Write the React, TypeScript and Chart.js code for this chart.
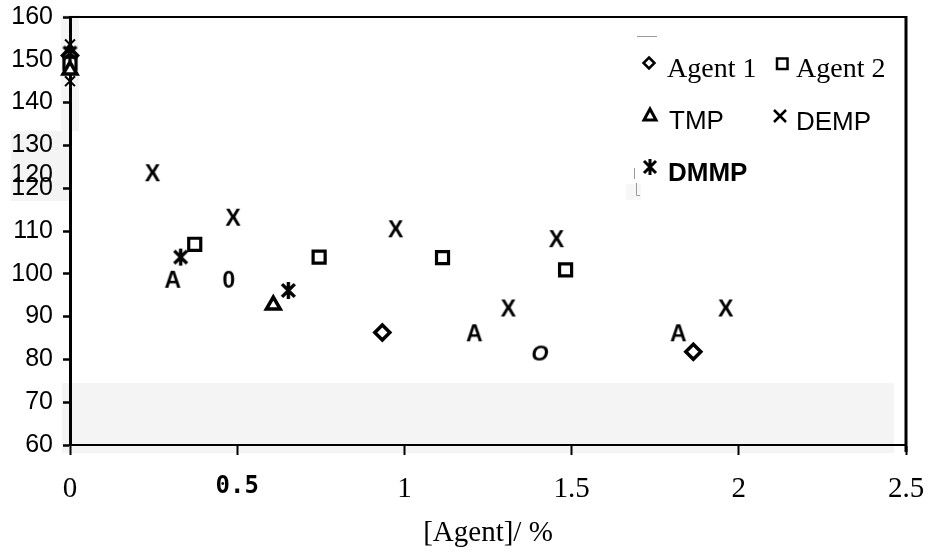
import React, { useEffect, useRef } from 'react';
import { Chart, registerables } from 'chart.js';

Chart.register(...registerables);

// ---------- data ----------
const xTickValues = [0, 0.5, 1, 1.5, 2, 2.5];
const xTickLabels = ['0', '0.5', '1', '1.5', '2', '2.5'];
const yTickValues = [60, 70, 80, 90, 100, 110, 120, 130, 140, 150, 160];
const yTickLabels = ['60', '70', '80', '90', '100', '110', '120', '130', '140', '150', '160'];
const xTitle = '[Agent]/ %';
const legendLabels = ['Agent 1', 'Agent 2', 'TMP', 'DEMP', 'DMMP'];

// Agent 1 (diamonds; some printed as "0" / "O")
const agent1X = [0, 0.475, 0.934, 1.405, 1.864];
const agent1Y = [151, 98.6, 86.3, 81.6, 81.8];
const agent1Marks = ['diamond', 'zero', 'diamond', 'oh', 'diamond'];

// Agent 2 (squares)
const agent2X = [0, 0.373, 0.745, 1.114, 1.482];
const agent2Y = [149.2, 106.9, 103.9, 103.8, 100.9];

// TMP (triangles; some printed as "A")
const tmpX = [0, 0.307, 0.608, 1.209, 1.819];
const tmpY = [147.6, 98.6, 92.7, 86.1, 86.1];
const tmpMarks = ['triangle', 'A', 'triangle', 'A', 'A'];

// DEMP (crosses; most printed as "X")
const dempX = [0, 0, 0.247, 0.488, 0.974, 1.311, 1.455, 1.961];
const dempY = [153.6, 145, 123.5, 113.1, 110.4, 91.9, 108.1, 91.9];
const dempMarks = ['cross', 'cross', 'X', 'X', 'X', 'X', 'X', 'X'];

// DMMP (asterisks)
const dmmpX = [0, 0.331, 0.653];
const dmmpY = [151.6, 103.9, 96.1];

// ---------- helpers ----------
function glyphCanvas(text: string, font: string, px: number, capRatio = 0.72) {
  const size = 34;
  const c = document.createElement('canvas');
  c.width = size;
  c.height = size;
  const g = c.getContext('2d')!;
  g.font = font;
  g.fillStyle = '#000';
  g.textAlign = 'center';
  g.textBaseline = 'alphabetic';
  g.fillText(text, size / 2, size / 2 + (px * capRatio) / 2);
  return c;
}

function asteriskCanvas(r: number, lw: number) {
  const size = Math.ceil(2 * r + lw + 4);
  const c = document.createElement('canvas');
  c.width = size;
  c.height = size;
  const g = c.getContext('2d')!;
  const m = size / 2;
  g.strokeStyle = '#000';
  g.lineWidth = lw;
  g.beginPath();
  g.moveTo(m, m - r);
  g.lineTo(m, m + r);
  const d = r * 0.75;
  g.moveTo(m - d, m - d);
  g.lineTo(m + d, m + d);
  g.moveTo(m + d, m - d);
  g.lineTo(m - d, m + d);
  g.stroke();
  return c;
}

function pts(xs: number[], ys: number[]) {
  return xs.map((x, i) => ({ x, y: ys[i] }));
}

const decorPlugin = {
  id: 'decor',
  beforeDraw(chart: any) {
    const { ctx, chartArea: a, scales } = chart;
    const y = scales.y;
    const x = scales.x;
    ctx.save();
    ctx.fillStyle = '#f4f4f4';
    // scan patches
    const p133 = y.getPixelForValue(133.4);
    const p117 = y.getPixelForValue(117);
    ctx.fillRect(a.left - 9, a.top - 2, 18, p133 - a.top + 2);
    ctx.fillRect(11, p133, a.left - 11, p117 - p133);
    const p745 = y.getPixelForValue(74.5);
    ctx.fillRect(a.left - 8, p745, x.getPixelForValue(2.464) - a.left + 8, a.bottom + 8 - p745);
    ctx.fillStyle = '#f7f7f7';
    ctx.fillRect(626, 184, 15, 16);
    ctx.restore();
  },
  afterDraw(chart: any) {
    const { ctx, chartArea: a } = chart;
    ctx.save();
    ctx.strokeStyle = '#000';
    // frame: top, right
    ctx.lineWidth = 2;
    ctx.beginPath();
    ctx.moveTo(a.left, a.top);
    ctx.lineTo(a.right, a.top);
    ctx.stroke();
    ctx.lineWidth = 3;
    ctx.beginPath();
    ctx.moveTo(a.right, a.top - 1);
    ctx.lineTo(a.right, a.bottom + 7);
    ctx.stroke();

    // duplicated "120" printed on the scan
    ctx.fillStyle = '#000';
    ctx.font = '25px "Liberation Sans"';
    ctx.textAlign = 'right';
    ctx.textBaseline = 'middle';
    ctx.fillText('120', 53, 175);

    // small scan marks
    ctx.strokeStyle = '#9a9a9a';
    ctx.lineWidth = 1;
    ctx.beginPath();
    ctx.moveTo(637, 36.5);
    ctx.lineTo(657, 36.5);
    ctx.moveTo(634.5, 168);
    ctx.lineTo(634.5, 179);
    ctx.moveTo(636.5, 183);
    ctx.lineTo(636.5, 195.5);
    ctx.lineTo(640, 195.5);
    ctx.stroke();

    // legend
    ctx.strokeStyle = '#000';
    ctx.fillStyle = '#000';
    ctx.lineWidth = 2.5;
    // diamond
    ctx.beginPath();
    ctx.moveTo(649, 57.5);
    ctx.lineTo(654.5, 63);
    ctx.lineTo(649, 68.5);
    ctx.lineTo(643.5, 63);
    ctx.closePath();
    ctx.stroke();
    // square
    ctx.strokeRect(777, 58.5, 10.5, 10.5);
    // triangle
    ctx.lineWidth = 3;
    ctx.beginPath();
    ctx.moveTo(650, 109);
    ctx.lineTo(656, 120);
    ctx.lineTo(644, 120);
    ctx.closePath();
    ctx.stroke();
    // cross
    ctx.lineWidth = 2.5;
    ctx.beginPath();
    ctx.moveTo(774, 110);
    ctx.lineTo(786, 122);
    ctx.moveTo(786, 110);
    ctx.lineTo(774, 122);
    ctx.stroke();
    // asterisk
    ctx.lineWidth = 3;
    ctx.beginPath();
    ctx.moveTo(650, 159);
    ctx.lineTo(650, 175);
    ctx.moveTo(644, 161);
    ctx.lineTo(656, 173);
    ctx.moveTo(656, 161);
    ctx.lineTo(644, 173);
    ctx.stroke();

    ctx.textAlign = 'left';
    ctx.textBaseline = 'alphabetic';
    ctx.font = '28px "Liberation Serif"';
    ctx.fillText(legendLabels[0], 667, 77);
    ctx.fillText(legendLabels[1], 796, 77);
    ctx.font = '26px "Liberation Sans"';
    ctx.fillText(legendLabels[2], 669, 129);
    ctx.fillText(legendLabels[3], 796, 130);
    ctx.font = 'bold 26px "Liberation Sans"';
    ctx.fillText(legendLabels[4], 668, 181);
    ctx.restore();
  },
};

export default function App() {
  const ref = useRef<HTMLCanvasElement>(null);

  useEffect(() => {
    if (!ref.current) return;
    const gX = glyphCanvas('X', 'bold 23px "Liberation Sans"', 23);
    const gA = glyphCanvas('A', 'bold 23px "Liberation Sans"', 23);
    const g0 = glyphCanvas('0', 'bold 23px "Liberation Sans"', 23);
    const gO = glyphCanvas('O', 'italic bold 22px "Liberation Sans"', 22);
    const star = asteriskCanvas(8.5, 3.4);
    const styleMap: Record<string, any> = {
      diamond: 'rectRot',
      triangle: 'triangle',
      cross: 'crossRot',
      X: gX,
      A: gA,
      zero: g0,
      oh: gO,
    };

    const common = {
      showLine: false,
      clip: false,
      pointBorderColor: '#000',
      pointBackgroundColor: '#fff',
    };

    const chart = new Chart(ref.current, {
      type: 'scatter',
      data: {
        datasets: [
          {
            ...common,
            label: 'DMMP',
            data: pts(dmmpX, dmmpY),
            pointStyle: star,
            pointRadius: 9,
          },
          {
            ...common,
            label: 'DEMP',
            data: pts(dempX, dempY),
            pointStyle: dempMarks.map((m) => styleMap[m]),
            pointRadius: 7,
            pointBorderWidth: 2,
          },
          {
            ...common,
            label: 'TMP',
            data: pts(tmpX, tmpY),
            pointStyle: tmpMarks.map((m) => styleMap[m]),
            pointRadius: 8,
            pointBorderWidth: 3.5,
          },
          {
            ...common,
            label: 'Agent 2',
            data: pts(agent2X, agent2Y),
            pointStyle: 'rect',
            pointRadius: 8.5,
            pointBorderWidth: 3.2,
          },
          {
            ...common,
            label: 'Agent 1',
            data: pts(agent1X, agent1Y),
            pointStyle: agent1Marks.map((m) => styleMap[m]),
            pointRadius: 7.5,
            pointBorderWidth: 3.5,
          },
        ],
      },
      options: {
        responsive: false,
        devicePixelRatio: 1,
        animation: false,
        events: [],
        layout: { padding: { top: 17, right: 24, left: 0, bottom: 0 } },
        plugins: {
          legend: { display: false },
          tooltip: { enabled: false },
          title: { display: false },
        },
        scales: {
          x: {
            type: 'linear',
            min: 0,
            max: 2.5,
            afterFit: (s: any) => {
              s.height = 109;
              s.paddingLeft = 0;
              s.paddingRight = 0;
            },
            afterBuildTicks: (s: any) => {
              s.ticks = xTickValues.map((v) => ({ value: v }));
            },
            ticks: {
              color: '#000',
              padding: 17,
              maxRotation: 0,
              autoSkip: false,
              callback: (_v: any, i: number) => xTickLabels[i],
              font: (c: any) =>
                c.index === 1
                  ? { family: '"DejaVu Sans Mono"', size: 24, weight: 'bold' }
                  : { family: '"Liberation Serif"', size: 29 },
            },
            grid: {
              drawOnChartArea: false,
              drawTicks: true,
              tickLength: 10,
              tickWidth: 2,
              tickColor: '#000',
            },
            border: { display: true, color: '#000', width: 2 },
            title: {
              display: true,
              text: xTitle,
              color: '#000',
              font: { family: '"Liberation Serif"', size: 29 },
              padding: { top: 0, bottom: 3 },
            },
          },
          y: {
            type: 'linear',
            min: 60,
            max: 160,
            afterFit: (s: any) => {
              s.width = 70;
              s.paddingTop = 0;
              s.paddingBottom = 0;
            },
            afterBuildTicks: (s: any) => {
              s.ticks = yTickValues.map((v) => ({ value: v }));
            },
            ticks: {
              color: '#000',
              padding: 10,
              autoSkip: false,
              callback: (_v: any, i: number) => yTickLabels[i],
              font: { family: '"Liberation Sans"', size: 25 },
            },
            grid: {
              drawOnChartArea: false,
              drawTicks: true,
              tickLength: 7,
              tickWidth: 2.5,
              tickColor: '#000',
            },
            border: { display: true, color: '#000', width: 3 },
          },
        },
      },
      plugins: [decorPlugin],
    } as any);

    return () => chart.destroy();
  }, []);

  return (
    <div
      style={{
        position: 'fixed',
        left: 0,
        top: 0,
        width: 930,
        height: 554,
        background: '#fff',
      }}
    >
      <canvas ref={ref} width={930} height={554} style={{ display: 'block', width: 930, height: 554 }} />
    </div>
  );
}
